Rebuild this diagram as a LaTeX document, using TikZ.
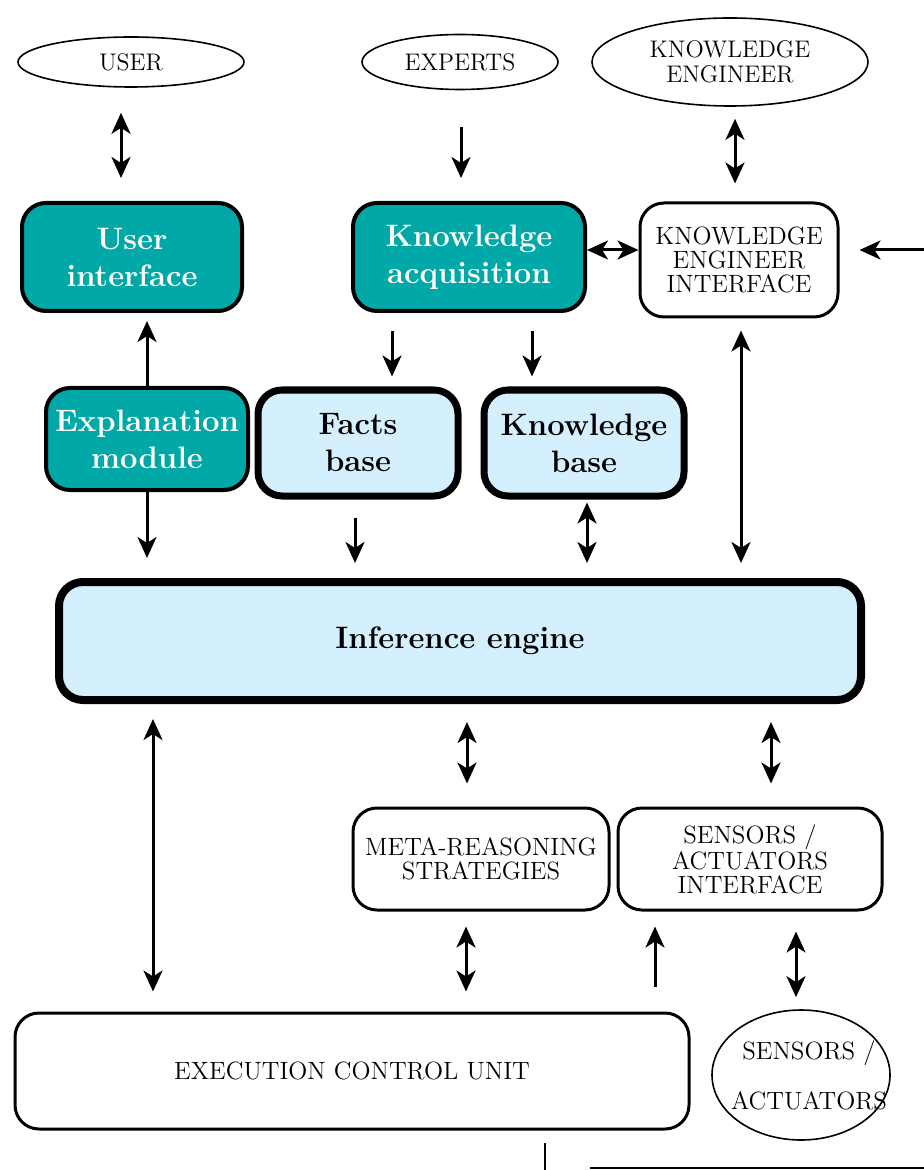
\documentclass[tikz,border=0pt]{standalone}
\usepackage{tikz}
\usetikzlibrary{calc,arrows.meta,shapes.geometric}
\definecolor{tealbox}{RGB}{0,168,168}
\definecolor{paleblue}{RGB}{212,239,253}

\begin{document}
\begin{tikzpicture}[x=0.5pt,y=-0.5pt,
	oval/.style={draw,ellipse,line width=0.8pt,inner sep=0pt,align=center,font=\fontsize{12}{12.5}\selectfont},
	tealnode/.style={draw,fill=tealbox,text=white,rounded corners=12pt,line width=2pt,align=center,font=\fontsize{15.5}{18.5}\selectfont\bfseries},
	bluenode/.style={draw,fill=paleblue,rounded corners=12pt,line width=3.5pt,align=center,font=\fontsize{15.5}{18.5}\selectfont\bfseries},
	plainnode/.style={draw,fill=white,rounded corners=12pt,line width=1.5pt,align=center,font=\fontsize{12.5}{12}\selectfont},
	one/.style={line width=1.5pt,-{Stealth[length=10.5pt,width=9.5pt,inset=3pt]}},
	both/.style={line width=1.5pt,{Stealth[length=10.5pt,width=9.5pt,inset=3pt]}-{Stealth[length=10.5pt,width=9.5pt,inset=3pt]}}]
			\useasboundingbox (0,0) rectangle (924,1170);
			\node [oval,minimum width=113pt,minimum height=25pt] (user) at (131,62) {USER};
			\node [oval,minimum width=98pt,minimum height=27.5pt] (experts) at (460,62) {EXPERTS};
			\node [oval,minimum width=138pt,minimum height=44pt] (keng) at (730,62) {KNOWLEDGE\\ENGINEER};
			\node [tealnode,minimum width=110pt,minimum height=54pt] (ui) at (132,257) {User\\interface};
			\node [tealnode,minimum width=116pt,minimum height=54pt] (ka) at (469,257) {Knowledge\\acquisition};
			\node [plainnode,minimum width=99pt,minimum height=57pt] (kei) at (739,260) {KNOWLEDGE\\ENGINEER\\INTERFACE};
			\node [tealnode,minimum width=101pt,minimum height=51pt] (expl) at (147,439) {Explanation\\module};
			\node [bluenode,minimum width=100pt,minimum height=53pt] (facts) at (358,443) {Facts\\base};
			\node [bluenode,minimum width=100pt,minimum height=53pt] (kb) at (584,443) {Knowledge\\base};
			\node [bluenode,line width=4pt,minimum width=401pt,minimum height=59pt] (inf) at (460,641) {Inference engine};
			\node [plainnode,minimum width=128pt,minimum height=51pt] (meta) at (481,859) {META-REASONING\\STRATEGIES};
			\node [plainnode,minimum width=132pt,minimum height=51pt] (sai) at (750,859) {SENSORS /\\ACTUATORS\\INTERFACE};
			\node [plainnode,minimum width=337pt,minimum height=58pt] (ecu) at (352,1071) {EXECUTION CONTROL UNIT};
			\node [oval,minimum width=89pt,minimum height=65pt] (sens) at (801,1075) {};
			\node [align=center,font=\fontsize{12.5}{12}\selectfont] (senstext) at ([xshift=4pt]sens.center) {SENSORS /\\[12pt]ACTUATORS};
			\foreach \a/\b/\x/\s/\e in {user/ui/121/12.5/11.5,keng/kei/735/6/9,kei/inf/741/6/7.5,kb/inf/587/1.5/7.5,
				inf/ecu/153/7.5/10,inf/meta/467/9/11.5,inf/sai/771/9/11.5,meta/ecu/466/7.5/10,sai/sens/796/10/6}
			\draw [both,shorten <=\s pt,shorten >=\e pt] (\a.south -| \x,0) -- (\b.north -| \x,0);
			\foreach \a/\b/\x/\s/\e in {experts/ka/461/18.5/11.5,ka/facts/392/9/5,ka/kb/532/9/5,
				expl/inf/147/0/10,facts/inf/355/9/7.5}
			\draw [one,shorten <=\s pt,shorten >=\e pt] (\a.south -| \x,0) -- (\b.north -| \x,0);
			\draw [one,shorten >=4pt] (expl.north -| 147,0) -- (ui.south -| 147,0);
			\draw [one,shorten <=12.5pt,shorten >=7.5pt] (ecu.north -| 655,0) -- (sai.south -| 655,0);
			\draw [both] (ka.east |- 0,250) -- (kei.west |- 0,250);
			\draw [one,shorten >=10pt] (924,250) -- (kei.east |- 0,250);
			\draw [line width=1.4pt] (545,1143) -- (545,1170);
			\draw [line width=1pt] (590,1168) -- (924,1168);
			\end{tikzpicture}
\end{document}
